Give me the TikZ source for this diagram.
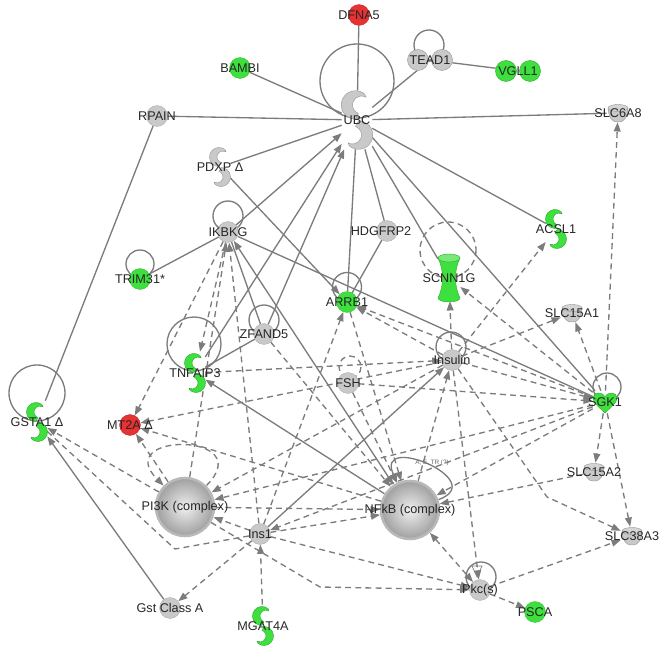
\documentclass[tikz,border=0pt]{standalone}
\usepackage{fontspec}
\setmainfont{Liberation Sans}
\usetikzlibrary{arrows.meta, positioning, backgrounds}
\definecolor{geneGray}{HTML}{C9C9C9}
\definecolor{geneRim}{HTML}{ADADAD}
\definecolor{geneGreen}{HTML}{3EE03E}
\definecolor{geneRed}{HTML}{E63232}
\definecolor{linkGray}{HTML}{7C7C7C}

\pgfdeclarelayer{edges}
\pgfdeclarelayer{glyphs}
\pgfsetlayers{edges,glyphs,main}

\tikzset{
    enzyme/.pic={
        \path[fill=#1, draw=#1!75!black, line width=0.3pt] (5.1,-17.3) arc[start angle=-50, end angle=-270, radius=9.5]
            -- (0.95,-4.36) arc[start angle=-250, end angle=-60, radius=6] -- cycle;
        \path[fill=#1, draw=#1!75!black, line width=0.3pt] (-5.1,17.3) arc[start angle=130, end angle=-90, radius=9.5]
            -- (-0.95,4.36) arc[start angle=-70, end angle=120, radius=6] -- cycle;
    },
    transporter/.pic={
        \path[fill=#1, draw=#1!75!black, line width=0.3pt] (-10,-5) .. controls (-9,4) and (-7,9) .. (0,9)
            .. controls (7,9) and (9,4) .. (10,-5) -- cycle;
        \path[fill=#1!80!white, draw=#1!75!black, line width=0.3pt] (0,-5) ellipse[x radius=10, y radius=3.5];
    },
    channel/.pic={
        \path[fill=#1, draw=#1!75!black, line width=0.3pt] (-11,-20) .. controls (-5,-8) and (-5,8) .. (-11,20)
            arc[start angle=180, end angle=0, x radius=11, y radius=4]
            .. controls (5,8) and (5,-8) .. (11,-20) -- cycle;
        \path[fill=#1!70!white, draw=#1!75!black, line width=0.3pt] (0,-20) ellipse[x radius=11, y radius=4];
    },
    kinase/.pic={
        \path[fill=#1, draw=#1!75!black, line width=0.3pt] (0,11) .. controls (-6,5) and (-12,1) .. (-12,-4)
            .. controls (-12,-10) and (-3,-11) .. (0,-5) .. controls (3,-11) and (12,-10) .. (12,-4)
            .. controls (12,1) and (6,5) .. (0,11) -- cycle;
    },
    dimer/.pic={
        \path[fill=#1, draw=#1!75!black, line width=0.3pt] (-12,0) circle[radius=10.5];
        \path[fill=#1, draw=#1!75!black, line width=0.3pt] (12,0) circle[radius=10.5];
    }
}

\begin{document}
\begin{tikzpicture}[
    x=0.025cm, y=-0.025cm,
    every label/.style={font=\fontsize{9}{10}\selectfont, text=black!85, inner sep=0pt},
    gene/.style={circle, minimum size=0.52cm, inner sep=0pt, fill=geneGray, draw=geneRim, line width=0.3pt},
    upgene/.style={gene, fill=geneGreen, draw=geneGreen!85!black},
    downgene/.style={gene, fill=geneRed, draw=geneRed!85!black},
    complexnode/.style={circle, minimum size=1.45cm, inner sep=0pt, shading=radial, inner color=gray!12, outer color=gray!75, draw=gray!55, line width=1.8pt},
    enzymebox/.style={rectangle, inner sep=0pt, minimum width=0.5cm, minimum height=1.05cm},
    transbox/.style={rectangle, inner sep=0pt, minimum width=0.55cm, minimum height=0.45cm},
    chanbox/.style={rectangle, inner sep=0pt, minimum width=0.55cm, minimum height=1.15cm},
    kinbox/.style={rectangle, inner sep=0pt, minimum width=0.6cm, minimum height=0.55cm},
    dimerbox/.style={rectangle, inner sep=0pt, minimum width=1.1cm, minimum height=0.52cm},
    tinylbl/.style={font=\fontsize{4.5}{5}\selectfont, text=black!60, inner sep=0pt},
    lnk/.style={draw=linkGray, line width=0.95pt},
    dsh/.style={lnk, dash pattern=on 4.2pt off 3pt},
    act/.style={lnk, -{Triangle[length=2.3mm, width=1.7mm]}},
    dact/.style={dsh, -{Triangle[length=2.3mm, width=1.7mm]}},
    biact/.style={dsh, {Triangle[length=2.3mm, width=1.7mm]}-{Triangle[length=2.3mm, width=1.7mm]}},
]
\useasboundingbox (0,0) rectangle (670,655);

% ====== TOP: UBC HUB ======
\node[downgene, label=center:DFNA5] (dfna5) at (359,15) {};
\node[dimerbox, label=center:TEAD1] (tead1) at (430,60) {};
\node[dimerbox, label=center:VGLL1] (vgll1) at (518,71) {};
\node[upgene, label=center:BAMBI] (bambi) at (240,68) {};
\node[enzymebox, minimum width=0.75cm, minimum height=1.45cm, label=center:UBC] (ubc) at (357,120) {};
\node[gene, label=center:RPAIN] (rpain) at (157,116) {};
\node[transbox, label=center:SLC6A8] (slc6a8) at (618,113) {};
\node[enzymebox, label={center:PDXP Δ}] (pdxp) at (220,167) {};

% ====== MIDDLE ======
\node[gene, label=center:IKBKG] (ikbkg) at (228,232) {};
\node[gene, label={[xshift=-0.15cm]center:HDGFRP2}] (hdgfrp2) at (387,231) {};
\node[enzymebox, label=center:ACSL1] (acsl1) at (556,229) {};
\node[upgene, label=center:TRIM31*] (trim31) at (140,279) {};
\node[chanbox, label=center:SCNN1G] (scnn1g) at (449,278) {};
\node[upgene, label=center:ARRB1] (arrb1) at (347,302) {};
\node[transbox, label=center:SLC15A1] (slc15a1) at (572,313) {};
\node[gene, label=center:ZFAND5] (zfand5) at (264,334) {};
\node[gene, label=center:Insulin] (insulin) at (452,360) {};
\node[enzymebox, label=center:TNFAIP3] (tnfaip3) at (195,373) {};
\node[gene, label=center:FSH] (fsh) at (348,383) {};
\node[kinbox, label=center:SGK1] (sgk1) at (605,402) {};
\node[enzymebox, label={center:GSTA1 Δ}] (gsta1) at (37,422) {};
\node[downgene, label={center:MT2A Δ}] (mt2a) at (130,425) {};

% ====== BOTTOM ======
\node[complexnode, label={center:PI3K (complex)}] (pi3k) at (185,507) {};
\node[complexnode, label={center:NFkB (complex)}] (nfkb) at (410,510) {};
\node[tinylbl, above=0.35cm of nfkb, xshift=0.55cm] (nfkb_loop) {A, E, TR (?)};
\node[gene, label=center:Ins1] (ins1) at (260,534) {};
\node[transbox, label=center:SLC15A2] (slc15a2) at (594,472) {};
\node[transbox, label=center:SLC38A3] (slc38a3) at (632,536) {};
\node[gene, label={center:Gst Class A}] (gstA) at (170,608) {};
\node[enzymebox, label=center:MGAT4A] (mgat4a) at (263,626) {};
\node[gene, label={center:Pkc(s)}] (pkc) at (480,590) {};
\node[upgene, label=center:PSCA] (psca) at (535,612) {};
\draw[linkGray, line width=0.5pt] (472,566) -- (482,566) -- (477,577) -- cycle;

\coordinate (bend_gst) at (175,549);
\coordinate (bend_pkc) at (320,587);
\coordinate (bend_slc) at (547,497);

% --- glyphs ---
\begin{pgfonlayer}{glyphs}
\pic[scale=1.5] at (ubc) {enzyme=geneGray};
\pic at (pdxp) {enzyme=geneGray};
\pic at (acsl1) {enzyme=geneGreen};
\pic at (tnfaip3) {enzyme=geneGreen};
\pic at (gsta1) {enzyme=geneGreen};
\pic at (mgat4a) {enzyme=geneGreen};
\pic at (tead1) {dimer=geneGray};
\pic at (vgll1) {dimer=geneGreen};
\pic at (slc6a8) {transporter=geneGray};
\pic at (slc15a1) {transporter=geneGray};
\pic at (slc15a2) {transporter=geneGray};
\pic at (slc38a3) {transporter=geneGray};
\pic at (scnn1g) {channel=geneGreen};
\pic at (sgk1) {kinase=geneGreen};
\end{pgfonlayer}

% --- connectors ---
\begin{pgfonlayer}{edges}
\draw[lnk] (ubc) -- (dfna5);
\draw[lnk] (ubc) -- (bambi);
\draw[lnk] (ubc) -- (tead1);
\draw[lnk] (tead1) -- (vgll1);
\draw[lnk] (ubc) -- (rpain);
\draw[lnk] (ubc) -- (slc6a8);
\draw[lnk] (ubc) -- (pdxp);
\draw[lnk] (ubc) -- (hdgfrp2);
\draw[lnk] (ubc) -- (scnn1g);
\draw[lnk] (ubc) -- (acsl1);
\draw[lnk] (ubc) -- (arrb1);
\draw[lnk] (ubc) -- (sgk1);
\draw[act] (ikbkg) -- (ubc);
\draw[act] (zfand5) -- (ubc);
\draw[act] (tnfaip3) -- (ubc);
\draw[lnk] (ikbkg) -- (trim31);
\draw[lnk] (ikbkg) -- (zfand5);
\draw[lnk] (ikbkg) -- (sgk1);
\draw[lnk] (hdgfrp2) -- (arrb1);
\draw[lnk] (zfand5) -- (tnfaip3);
\draw[lnk] (gsta1) -- (rpain);
\draw[act] (pdxp) -- (arrb1);
\draw[act] (gstA) -- (gsta1);
\draw[act] (ins1) -- (insulin);
\draw[act] (nfkb) -- (tnfaip3);
\draw[lnk, {Triangle[length=2.3mm, width=1.7mm]}-{Triangle[length=2.3mm, width=1.7mm]}] (ikbkg) -- (nfkb);

\draw[dact] (ikbkg) -- (tnfaip3);
\draw[dact] (ikbkg) -- (mt2a);
\draw[dact] (pi3k) -- (ikbkg);
\draw[dact] (ins1) -- (ikbkg);
\draw[dact] (insulin) -- (arrb1);
\draw[dact] (sgk1) -- (arrb1);
\draw[dact] (ins1) -- (arrb1);
\draw[dact] (arrb1) -- (nfkb);
\draw[dact] (insulin) -- (scnn1g);
\draw[dact] (sgk1) -- (scnn1g);
\draw[dact] (insulin) -- (acsl1);
\draw[dact] (insulin) -- (slc15a1);
\draw[dact] (sgk1) -- (slc15a1);
\draw[dact] (sgk1) -- (slc6a8);
\draw[dact] (sgk1) -- (slc15a2);
\draw[dact] (sgk1) -- (slc38a3);
\draw[dact] (insulin) -- (sgk1);
\draw[dact] (fsh) -- (sgk1);
\draw[dact] (tnfaip3) -- (insulin);
\draw[dact] (insulin) -- (mt2a);
\draw[dact] (nfkb) -- (mt2a);
\draw[dact] (pi3k) -- (mt2a);
\draw[dact] (pi3k) -- (gsta1);
\draw[dact] (insulin) -- (pi3k);
\draw[dact] (sgk1) -- (pi3k);
\draw[dact] (ins1) -- (pi3k);
\draw[dact] (pi3k) -- (nfkb);
\draw[dact] (ins1) -- (nfkb);
\draw[dact] (fsh) -- (nfkb);
\draw[dact] (zfand5) -- (nfkb);
\draw[dact] (sgk1) -- (nfkb);
\draw[dact] (slc15a2) -- (nfkb);
\draw[dact] (sgk1) -- (ins1);
\draw[dact] (nfkb) -- (insulin);
\draw[biact] (nfkb) -- (pkc);
\draw[dact] (insulin) -- (pkc);
\draw[dact] (ins1) -- (pkc);
\draw[dact] (pkc) -- (psca);
\draw[dact] (pkc) -- (slc38a3);
\draw[dact] (ins1) -- (gstA);
\draw[dact] (mgat4a) -- (ins1);
\draw[dact] (pi3k) -- (bend_pkc) -- (pkc);
\draw[dsh] (gsta1) -- (bend_gst) -- (ins1);
\draw[dact] (insulin) -- (bend_slc) -- (slc38a3);

% self loops
\draw[lnk] (ubc) ++(0,-39) circle[radius=37];
\draw[lnk] (tead1) ++(-1,-15) circle[radius=15];
\draw[lnk] (ikbkg) ++(0,-16) circle[radius=15];
\draw[lnk] (trim31) ++(0,-15) circle[radius=14];
\draw[lnk] (arrb1) ++(0,-15) circle[radius=14.5];
\draw[lnk] (zfand5) ++(0,-14) circle[radius=15];
\draw[lnk] (insulin) ++(-1,-13) circle[radius=15];
\draw[dsh] (fsh) ++(2,-16) circle[radius=11];
\draw[dsh] (scnn1g) ++(-1,-28) circle[radius=28];
\draw[lnk] (tnfaip3) ++(-1,-29) circle[radius=27];
\draw[lnk] (gsta1) ++(0,-29) circle[radius=28];
\draw[lnk] (sgk1) ++(2,-15) circle[radius=14];
\draw[lnk] (pkc) ++(1,-13) circle[radius=15];
\draw[dact] (pi3k) to[out=45, in=135, looseness=1, min distance=1.9cm] (pi3k);
\draw[act] (nfkb) to[out=20, in=115, looseness=1, min distance=1.4cm] (nfkb);
\end{pgfonlayer}

\end{tikzpicture}
\end{document}
